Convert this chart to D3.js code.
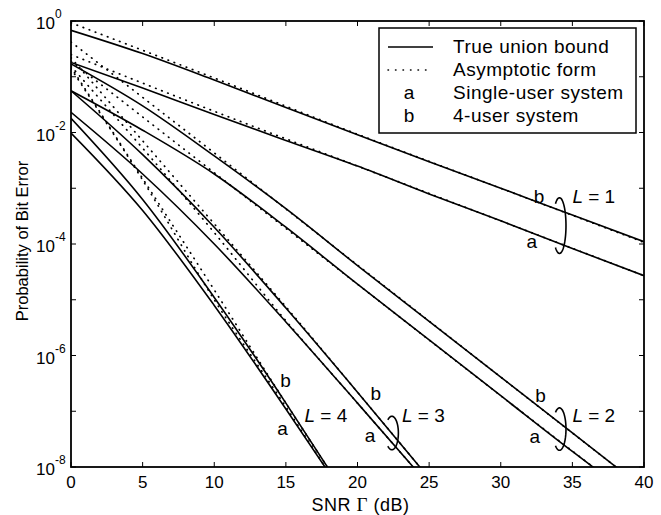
<!DOCTYPE html>
<html>
<head>
<meta charset="utf-8">
<script src="https://cdn.jsdelivr.net/npm/d3@7"></script>
<style>
  body { margin: 0; background: #fff; }
  text { font-family: "Liberation Sans", Arial, Helvetica, sans-serif; fill: #000; }
</style>
</head>
<body>
<script>
// --- data (SNR in dB, probability of bit error) ---
const snrTicks = [0, 5, 10, 15, 20, 25, 30, 35, 40];
const decadeTicks = [0, -2, -4, -6, -8];
const minorDecades = [-1, -3, -5, -7];

// true union bound (solid)
const exactA1 = [[0, 1.8e-1], [5, 6.3e-2], [10, 2.1e-2], [15, 7.2e-3], [20, 2.5e-3], [25, 7.9e-4], [30, 2.6e-4], [35, 8.3e-5], [40, 2.7e-5]];
const exactB1 = [[0, 6.8e-1], [5, 2.6e-1], [10, 8.7e-2], [15, 2.8e-2], [20, 9.1e-3], [25, 3.0e-3], [30, 1.0e-3], [35, 3.3e-4], [40, 1.1e-4]];
const exactA2 = [[0, 5.6e-2], [5, 1.1e-2], [10, 1.8e-3], [15, 2.0e-4], [20, 1.9e-5], [25, 1.9e-6], [30, 1.9e-7], [35, 1.9e-8], [36.8, 8.5e-9]];
const exactB2 = [[0, 1.7e-1], [5, 3.0e-2], [10, 3.8e-3], [15, 4.3e-4], [20, 4.1e-5], [25, 4.1e-6], [30, 4.1e-7], [35, 4.1e-8], [38.3, 8.9e-9]];
const exactA3 = [[0, 2.3e-2], [5, 1.8e-3], [10, 1.0e-4], [15, 4.0e-6], [20, 1.4e-7], [24.5, 6.6e-9]];
const exactB3 = [[0, 5.6e-2], [5, 4.0e-3], [10, 2.0e-4], [15, 7.1e-6], [20, 2.2e-7], [25, 6.3e-9]];
const exactA4 = [[0, 9.8e-3], [5, 4.0e-4], [10, 7.9e-6], [15, 1.1e-7], [18, 7.9e-9]];
const exactB4 = [[0, 1.8e-2], [5, 6.3e-4], [10, 1.1e-5], [15, 1.4e-7], [18.2, 7.6e-9]];

// asymptotic form (dotted)
const asymA1 = [[0, 2.5e-1], [10, 2.4e-2], [20, 2.5e-3], [30, 2.6e-4], [40, 2.7e-5]];
const asymB1 = [[0, 9.3e-1], [10, 9.5e-2], [20, 9.3e-3], [30, 1.0e-3], [40, 1.07e-4]];
const asymA2 = [[0, 1.9e-1], [10, 1.9e-3], [20, 1.9e-5], [30, 1.9e-7], [36.8, 8.5e-9]];
const asymB2 = [[0, 4.2e-1], [10, 4.3e-3], [20, 4.2e-5], [30, 4.1e-7], [38.3, 8.9e-9]];
const asymA3 = [[0, 1.55e-1], [10, 1.6e-4], [15, 4.2e-6], [20, 1.4e-7], [24.5, 6.6e-9]];
const asymB3 = [[0, 2.2e-1], [10, 2.3e-4], [15, 7.5e-6], [20, 2.2e-7], [25, 6.3e-9]];
const asymA4 = [[0, 1.4e-1], [5, 1.4e-3], [10, 1.0e-5], [15, 1.2e-7], [18, 7.9e-9]];
const asymB4 = [[0, 1.5e-1], [5, 1.5e-3], [10, 1.5e-5], [15, 1.4e-7], [18.2, 7.6e-9]];

const solidSeries = [exactA1, exactB1, exactA2, exactB2, exactA3, exactB3, exactA4, exactB4];
const dottedSeries = [asymA1, asymB1, asymA2, asymB2, asymA3, asymB3, asymA4, asymB4];

const legendLabels = ["True union bound", "Asymptotic form", "Single-user system", "4-user system"];
const legendKeys = ["solid", "dotted", "a", "b"];

// curve labels: [text, SNR dB, log10 Pb at baseline]
const curveLabels = [
  ["b", 32.3, -3.27], ["a", 31.8, -4.07], ["L", 35.0, -3.27, "1"],
  ["b", 32.4, -6.83], ["a", 32.0, -7.57], ["L", 35.0, -7.19, "2"],
  ["b", 20.9, -6.80], ["a", 20.5, -7.55], ["L", 23.1, -7.19, "3"],
  ["b", 14.6, -6.57], ["a", 14.4, -7.43], ["L", 16.3, -7.19, "4"]
];
// loops grouping a/b: [SNR dB, log10 Pb at centre, half height in decades]
const loops = [[34.1, -3.67, 0.5], [34.1, -7.32, 0.38], [22.4, -7.39, 0.3]];

// --- layout ---
const W = 661, H = 515;
const margin = {top: 21, right: 17, bottom: 48, left: 71};
const iw = W - margin.left - margin.right;
const ih = H - margin.top - margin.bottom;

const svg = d3.select("body").append("svg").attr("width", W).attr("height", H);
const g = svg.append("g").attr("transform", "translate(" + margin.left + "," + margin.top + ")");

const x = d3.scaleLinear().domain([0, 40]).range([0, iw]);
const y = d3.scaleLog().domain([1e-8, 1]).range([ih, 0]);

g.append("clipPath").attr("id", "clip").append("rect").attr("width", iw).attr("height", ih);

const line = d3.line().x(d => x(d[0])).y(d => y(d[1])).curve(d3.curveMonotoneX);

const curves = g.append("g").attr("clip-path", "url(#clip)");
curves.selectAll("path.dot")
  .data(dottedSeries)
  .enter().append("path")
  .attr("class", "dot")
  .attr("d", line)
  .attr("fill", "none")
  .attr("stroke", "#000")
  .attr("stroke-width", 1.7)
  .attr("stroke-linecap", "round")
  .attr("stroke-dasharray", "0.5,6");
curves.selectAll("path.solid")
  .data(solidSeries)
  .enter().append("path")
  .attr("class", "solid")
  .attr("d", line)
  .attr("fill", "none")
  .attr("stroke", "#000")
  .attr("stroke-width", 1.6);

// frame
g.append("rect").attr("width", iw).attr("height", ih)
  .attr("fill", "none").attr("stroke", "#000").attr("stroke-width", 1.8);

// ticks (inward, all sides)
const tl = 5;
snrTicks.forEach(t => {
  g.append("line").attr("x1", x(t)).attr("x2", x(t)).attr("y1", ih).attr("y2", ih - tl).attr("stroke", "#000");
  g.append("line").attr("x1", x(t)).attr("x2", x(t)).attr("y1", 0).attr("y2", tl).attr("stroke", "#000");
  g.append("text").attr("x", x(t)).attr("y", ih + 21)
    .attr("text-anchor", "middle").style("font-size", "17px").text(t);
});
decadeTicks.concat(minorDecades).forEach(p => {
  const yy = y(Math.pow(10, p));
  g.append("line").attr("x1", 0).attr("x2", tl).attr("y1", yy).attr("y2", yy).attr("stroke", "#000");
  g.append("line").attr("x1", iw).attr("x2", iw - tl).attr("y1", yy).attr("y2", yy).attr("stroke", "#000");
});
decadeTicks.forEach(p => {
  const yy = y(Math.pow(10, p));
  g.append("text").attr("x", -16).attr("y", yy + 8)
    .attr("text-anchor", "end").style("font-size", "17px").text("10");
  g.append("text").attr("x", -16).attr("y", yy - 3)
    .style("font-size", "12px").text(p === 0 ? "0" : "-" + Math.abs(p));
});

// axis titles
const xt = svg.append("text")
  .attr("x", margin.left + iw / 2 + 3).attr("y", H - 4)
  .attr("text-anchor", "middle").style("font-size", "18px").style("letter-spacing", "0.5px");
xt.append("tspan").text("SNR ");
xt.append("tspan").style("font-family", "'Liberation Serif', 'Times New Roman', serif").style("font-size", "19px").text("\u0393");
xt.append("tspan").text(" (dB)");

svg.append("text")
  .attr("transform", "translate(" + 28 + "," + 241 + ") rotate(-90)")
  .attr("text-anchor", "middle").style("font-size", "16.5px")
  .text("Probability of Bit Error");

// curve labels
curveLabels.forEach(c => {
  const t = g.append("text").attr("x", x(c[1])).attr("y", y(Math.pow(10, c[2])))
    .style("font-size", "19px");
  if (c[0] === "L") {
    t.append("tspan").style("font-style", "italic").text("L");
    t.append("tspan").text(" = " + c[3]);
  } else {
    t.text(c[0]);
  }
});

// loops: open on the left, hooks at both ends
loops.forEach(l => {
  const cx = x(l[0]);
  const cy = y(Math.pow(10, l[1]));
  const ry = y(Math.pow(10, l[1] - l[2])) - cy;
  const rx = 6.5;
  const pts = d3.range(-128, 129, 4).map(a => {
    const r = a * Math.PI / 180;
    return [cx + rx * Math.cos(r), cy + ry * Math.sin(r)];
  });
  g.append("path").attr("d", d3.line()(pts))
    .attr("fill", "none").attr("stroke", "#000").attr("stroke-width", 1.6);
});

// legend
const lg = g.append("g").attr("transform", "translate(" + (x(0) + 308) + "," + 7 + ")");
lg.append("rect").attr("width", 257).attr("height", 105)
  .attr("fill", "#fff").attr("stroke", "#000").attr("stroke-width", 1.5);
legendLabels.forEach((lab, i) => {
  const by = 25 + i * 23;
  const k = legendKeys[i];
  if (k === "solid" || k === "dotted") {
    lg.append("line").attr("x1", 9).attr("x2", 54).attr("y1", by - 6).attr("y2", by - 6)
      .attr("stroke", "#000").attr("stroke-width", 1.5)
      .attr("stroke-linecap", k === "dotted" ? "round" : "butt")
      .attr("stroke-dasharray", k === "dotted" ? "0.5,7" : null);
  } else {
    lg.append("text").attr("x", 30).attr("y", by).attr("text-anchor", "middle")
      .style("font-size", "19px").text(k);
  }
  lg.append("text").attr("x", 74).attr("y", by).style("font-size", "19px")
    .style("letter-spacing", "0.5px").text(lab);
});
</script>
</body>
</html>
